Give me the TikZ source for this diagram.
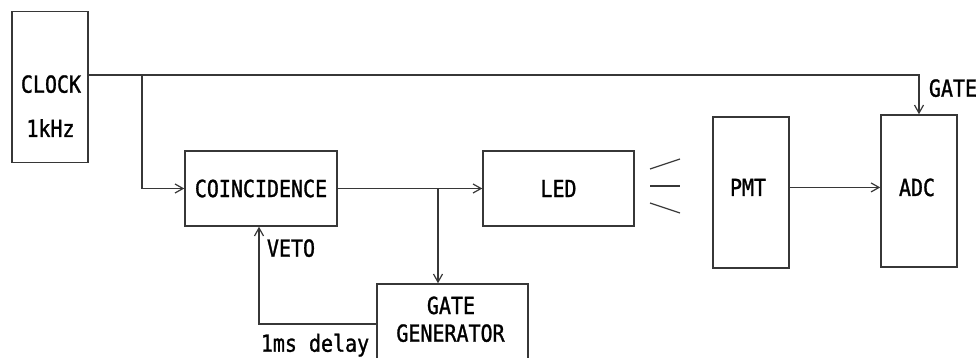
\documentclass[tikz,border=0pt]{standalone}
\usepackage{fontspec}
\newfontfamily\diagfont[FakeStretch=0.85,FakeBold=1.2]{DejaVu Sans Mono}
\usetikzlibrary{arrows.meta}
\definecolor{cline}{RGB}{55,55,55}
\tikzset{
  daqpic/.style={x=1pt,y=-1pt,line width=1.2pt,cline,
    font=\diagfont\fontsize{23.5}{27.7}\selectfont,
    >={Straight Barb[length=8pt,width=9pt]}},
  unit/.style={draw=cline,line width=1.5pt,inner sep=0pt,text=black},
  lbl/.style={anchor=base,inner sep=0pt,text=black},
}

\begin{document}
\begin{tikzpicture}[daqpic]
    \useasboundingbox (0,0) rectangle (979,358);
    \clip (0,0) rectangle (979,358);
    % boxes
    \node[unit,minimum width=76pt,minimum height=151pt] (clock) at (50,87) {};
    \node[unit,minimum width=152pt,minimum height=75pt] (coin) at (261,188.5) {COINCIDENCE};
    \node[unit,minimum width=151pt,minimum height=75pt] (led) at (558.5,188.5) {LED};
    \node[unit,minimum width=76pt,minimum height=151pt] (pmt) at (751,192.5) {};
    \node[unit,minimum width=76pt,minimum height=152pt] (adc) at (919,191) {};
    \node[unit,minimum width=151pt,minimum height=100pt] (gategen) at (452.5,334) {};
    % texts
    \node[lbl] (clocktxt) at (51,92.7) {CLOCK};
    \node[lbl] (freqtxt) at (50.5,137) {1kHz};
    \node[lbl] (pmttxt) at (748,196) {PMT};
    \node[lbl] (adctxt) at (917,196) {ADC};
    \node[lbl] (gatetxt) at (451,314) {GATE};
    \node[lbl] (gentxt) at (450.5,341.7) {GENERATOR};
    \node[lbl] (gatelbl) at (953,96.7) {GATE};
    \node[lbl] (vetolbl) at (291,256.7) {VETO};
    \node[lbl] (delaylbl) at (315,351.7) {1ms delay};
    % connectors
    \coordinate (tap) at (142,75);
    \coordinate (split) at (438,188.5);
    \coordinate (vetobend) at (259,324);
    \draw[->] (clock.east |- tap) -- (tap -| adc.north) -- (adc.north);
    \draw[->] (tap) |- (coin.west);
    \draw[->] (coin) -- (led);
    \draw[->] (split) -- (split |- gategen.north);
    \draw[->] (vetobend -| gategen.west) -- (vetobend) -- (vetobend |- coin.south);
    \draw[->] (pmttxt -| pmt.east) -- (pmttxt -| adc.west);
    % light from the LED
    \foreach \ya/\yb in {169/159,186/186,203/213}
      \draw (650,\ya) -- (680,\yb);
\end{tikzpicture}
\end{document}
